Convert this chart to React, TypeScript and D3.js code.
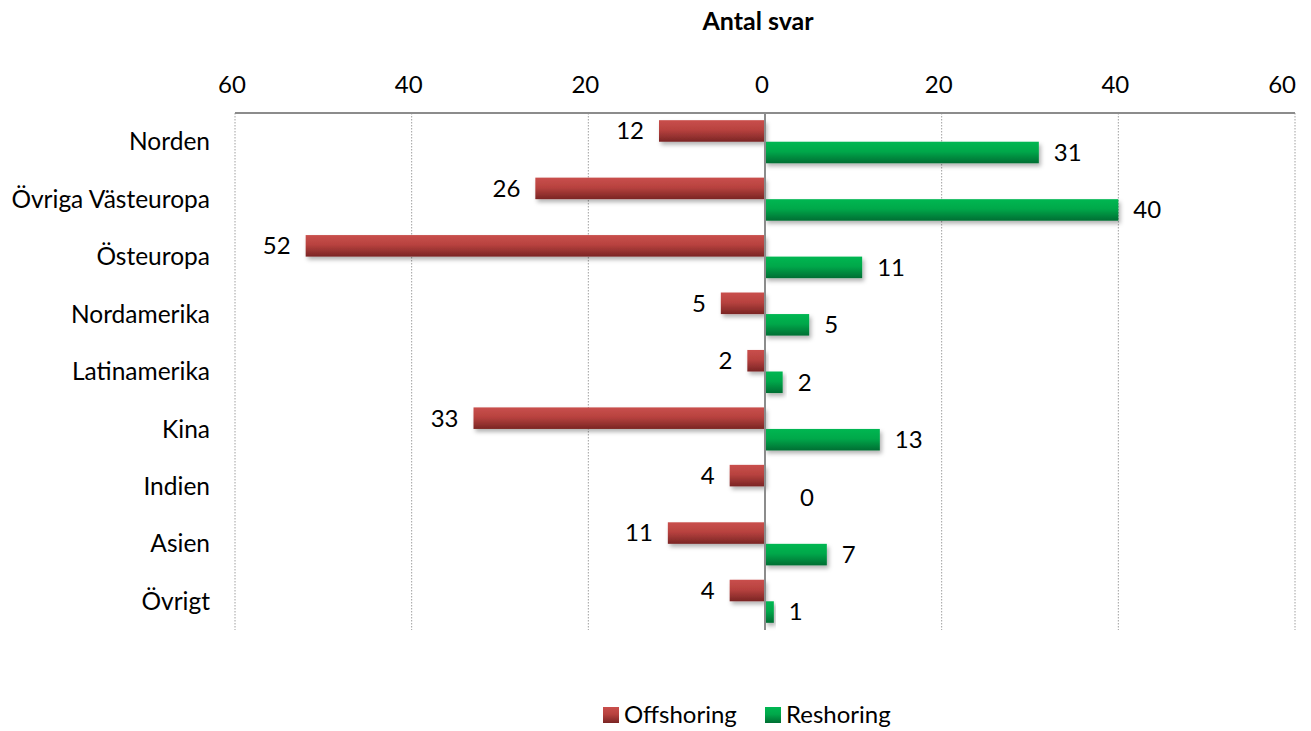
import React, { useEffect } from "react";
import * as d3 from "d3";

const categories = ["Norden", "Övriga Västeuropa", "Östeuropa", "Nordamerika", "Latinamerika", "Kina", "Indien", "Asien", "Övrigt"];
const offshoring = [12, 26, 52, 5, 2, 33, 4, 11, 4];
const reshoring = [31, 40, 11, 5, 2, 13, 0, 7, 1];
const tickValues = [-60, -40, -20, 0, 20, 40, 60];
const seriesNames = ["Offshoring", "Reshoring"];
const title = "Antal svar";

const W = 1311;
const H = 731;
const FONT = "Lato, 'Open Sans', sans-serif";

export default function App() {
  useEffect(() => {
    document.body.style.margin = "0";
  }, []);

  const x = d3.scaleLinear().domain([-60, 60]).range([235, 1295]);
  const y = d3.scaleBand().domain(categories).range([113, 630]).paddingInner(0.25).paddingOuter(0.125);
  const bh = y.bandwidth() / 2;
  const x0 = x(0);

  return (
    <svg width={W} height={H} style={{ display: "block", fontFamily: FONT }}>
      <defs>
        <linearGradient id="gRed" x1="0" y1="0" x2="0" y2="1">
          <stop offset="0" stopColor="#c94f4c" />
          <stop offset="0.45" stopColor="#b8423f" />
          <stop offset="1" stopColor="#7a2524" />
        </linearGradient>
        <linearGradient id="gGreen" x1="0" y1="0" x2="0" y2="1">
          <stop offset="0" stopColor="#00b752" />
          <stop offset="0.45" stopColor="#00a84a" />
          <stop offset="1" stopColor="#006e33" />
        </linearGradient>
        <filter id="shadow" x="-10%" y="-30%" width="130%" height="190%">
          <feDropShadow dx="2" dy="3" stdDeviation="2" floodColor="#000" floodOpacity="0.3" />
        </filter>
      </defs>

      <text x={758} y={30} textAnchor="middle" fontWeight="bold" fontSize={25} fill="#000">{title}</text>

      {tickValues.map((t, i) => {
        const last = i === tickValues.length - 1;
        return (
          <g key={t}>
            <text x={last ? x(t) + 1 : x(t) - 3} y={93} textAnchor={last ? "end" : "middle"} fontSize={24} fill="#000">{Math.abs(t)}</text>
            {t !== 0 && (
              <line x1={x(t)} x2={x(t)} y1={113} y2={630} stroke="#a0a0a0" strokeWidth={1} strokeDasharray="1.5,1.5" />
            )}
          </g>
        );
      })}
      <line x1={235} x2={1295} y1={113} y2={113} stroke="#8c8c8c" strokeWidth={2} />

      {categories.map((c, i) => {
        const yb = y(c)!;
        const yc = yb + y.bandwidth() / 2;
        const o = offshoring[i];
        const r = reshoring[i];
        return (
          <g key={c}>
            <text x={210} y={yc} dy="0.35em" textAnchor="end" fontSize={24.5} fill="#000">{c}</text>
            <rect x={x(-o)} y={yb} width={x0 - x(-o)} height={bh} fill="url(#gRed)" filter="url(#shadow)" />
            {r > 0 && (
              <rect x={x0} y={yb + bh} width={x(r) - x0} height={bh} fill="url(#gGreen)" filter="url(#shadow)" />
            )}
            <text x={x(-o) - 15} y={yb + bh / 2} dy="0.35em" textAnchor="end" fontSize={24} fill="#000">{o}</text>
            <text x={r > 0 ? x(r) + 15 : x(r) + 35} y={yb + bh * 1.5} dy="0.35em" textAnchor="start" fontSize={24} fill="#000">{r}</text>
          </g>
        );
      })}

      <line x1={x0} x2={x0} y1={113} y2={630} stroke="#8c8c8c" strokeWidth={2} />

      <g>
        <rect x={603} y={707} width={16} height={16} fill="url(#gRed)" />
        <text x={624} y={715} dy="0.35em" fontSize={24} fill="#000">{seriesNames[0]}</text>
        <rect x={765} y={707} width={16} height={16} fill="url(#gGreen)" />
        <text x={786} y={715} dy="0.35em" fontSize={24} fill="#000">{seriesNames[1]}</text>
      </g>
    </svg>
  );
}
